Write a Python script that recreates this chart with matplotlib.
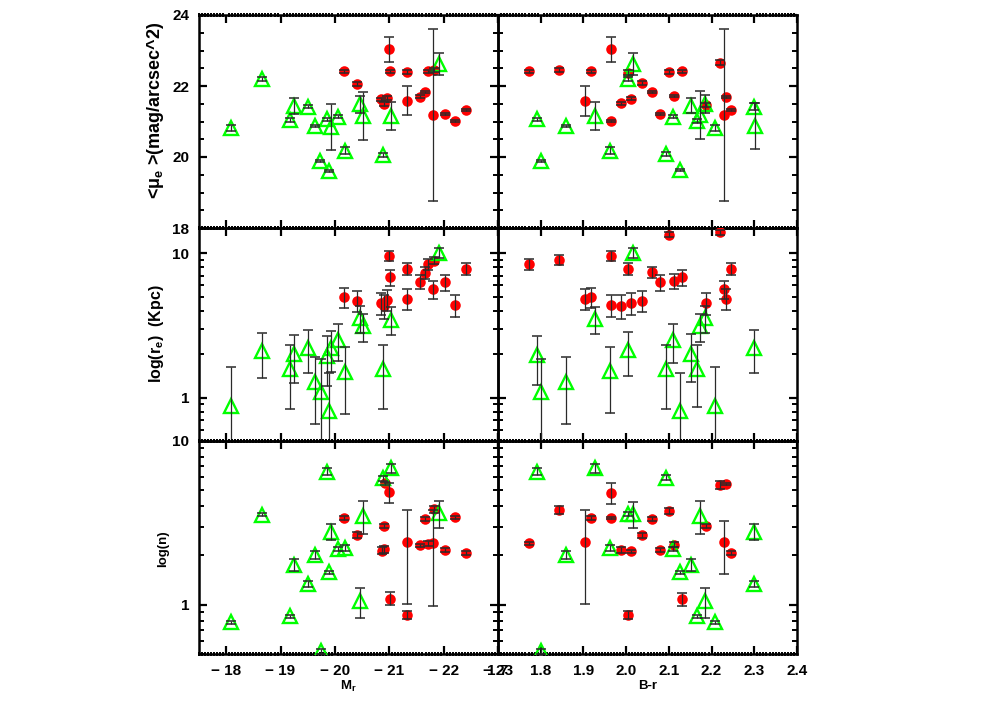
import numpy as np
import matplotlib
matplotlib.use('Agg')
import matplotlib.pyplot as plt
import matplotlib.ticker as ticker

plt.rcParams['font.family'] = ['Liberation Sans', 'DejaVu Sans']
plt.rcParams['font.weight'] = 'bold'
plt.rcParams['mathtext.fontset'] = 'custom'
plt.rcParams['mathtext.rm'] = 'Liberation Sans:bold'
plt.rcParams['mathtext.it'] = 'Liberation Sans:bold'
plt.rcParams['mathtext.bf'] = 'Liberation Sans:bold'

# Data: (x, y, error) per panel. Red = filled circles, green = open triangles.
# Top row: <mu_e> (mag/arcsec^2)
mu_mr_red = [(-20.16, 22.42, 0.04), (-20.40, 22.06, 0.06), (-20.85, 21.62, 0.05),
             (-20.90, 21.50, 0.06), (-20.95, 21.66, 0.05), (-21.00, 23.03, 0.35),
             (-21.02, 22.42, 0.04), (-21.33, 22.40, 0.05), (-21.33, 21.59, 0.42),
             (-21.56, 21.70, 0.04), (-21.65, 21.83, 0.04), (-21.71, 22.42, 0.04),
             (-21.82, 22.45, 0.05), (-21.81, 21.18, 2.42), (-22.02, 21.21, 0.03),
             (-22.20, 21.02, 0.03), (-22.41, 21.32, 0.03)]
mu_mr_green = [(-18.09, 20.81, 0.08), (-18.66, 22.20, 0.05), (-19.17, 21.04, 0.05),
               (-19.25, 21.44, 0.22), (-19.50, 21.42, 0.05), (-19.64, 20.87, 0.03),
               (-19.73, 19.89, 0.03), (-19.85, 21.06, 0.05), (-19.90, 19.61, 0.03),
               (-19.92, 20.85, 0.65), (-20.05, 21.14, 0.05), (-20.18, 20.18, 0.10),
               (-20.47, 21.48, 0.25), (-20.52, 21.16, 0.67), (-20.89, 20.06, 0.05),
               (-21.03, 21.16, 0.40), (-21.91, 22.61, 0.31)]
mu_br_red = [(1.773, 22.42, 0.04), (1.842, 22.45, 0.05), (1.917, 22.42, 0.04),
             (1.903, 21.58, 0.42), (1.964, 23.03, 0.35), (1.965, 21.02, 0.03),
             (1.987, 21.51, 0.04), (2.004, 22.38, 0.06), (2.011, 21.64, 0.04),
             (2.036, 22.08, 0.05), (2.061, 21.82, 0.03), (2.079, 21.21, 0.03),
             (2.101, 22.40, 0.06), (2.111, 21.72, 0.03), (2.130, 22.41, 0.03),
             (2.187, 21.47, 0.05), (2.220, 22.66, 0.06), (2.228, 21.18, 2.42),
             (2.234, 21.70, 0.03), (2.246, 21.32, 0.03)]
mu_br_green = [(1.791, 21.06, 0.05), (1.800, 19.89, 0.03), (1.859, 20.88, 0.03),
               (1.926, 21.16, 0.40), (1.962, 20.18, 0.10), (2.004, 22.19, 0.05),
               (2.017, 22.61, 0.31), (2.093, 20.08, 0.05), (2.110, 21.14, 0.05),
               (2.126, 19.63, 0.03), (2.151, 21.45, 0.22), (2.167, 21.02, 0.05),
               (2.173, 21.18, 0.67), (2.185, 21.49, 0.25), (2.208, 20.81, 0.08),
               (2.300, 21.42, 0.10), (2.302, 20.87, 0.65)]

# Middle row: r_e (Kpc)
re_mr_red = [(-20.16, 4.98, 0.80), (-20.40, 4.69, 0.77), (-20.85, 4.52, 0.80),
             (-20.90, 4.33, 0.80), (-20.95, 4.77, 0.80), (-21.00, 9.58, 0.75),
             (-21.02, 6.82, 0.86), (-21.33, 7.83, 0.77), (-21.33, 4.84, 0.80),
             (-21.56, 6.37, 0.70), (-21.65, 7.35, 0.70), (-21.71, 8.40, 0.70),
             (-21.82, 8.89, 0.50), (-21.81, 5.65, 0.80), (-22.02, 6.31, 0.80),
             (-22.20, 4.38, 0.78), (-22.41, 7.83, 0.80)]
re_mr_green = [(-18.09, 0.875, 0.75), (-18.66, 2.09, 0.72), (-19.17, 1.57, 0.73),
               (-19.25, 1.99, 0.73), (-19.50, 2.21, 0.72), (-19.63, 1.28, 0.62),
               (-19.75, 1.09, 0.75), (-19.85, 1.94, 0.73), (-19.90, 0.81, 0.68),
               (-19.93, 2.21, 0.70), (-20.05, 2.52, 0.74), (-20.18, 1.51, 0.74),
               (-20.47, 3.57, 0.76), (-20.52, 3.12, 0.70), (-20.89, 1.57, 0.73),
               (-21.03, 3.47, 0.75), (-21.91, 10.1, 0.75)]
re_br_red = [(1.773, 8.40, 0.70), (1.842, 9.00, 0.70), (1.903, 4.84, 0.80),
             (1.917, 4.98, 0.80), (1.964, 9.58, 0.75), (1.965, 4.40, 0.78),
             (1.987, 4.33, 0.80), (2.004, 7.83, 0.77), (2.011, 4.52, 0.80),
             (2.036, 4.71, 0.77), (2.061, 7.40, 0.70), (2.079, 6.31, 0.80),
             (2.101, 13.5, 0.60), (2.111, 6.44, 0.80), (2.130, 6.82, 0.86),
             (2.187, 4.52, 0.80), (2.220, 13.96, 0.60), (2.228, 5.65, 0.80),
             (2.234, 4.82, 0.80), (2.246, 7.83, 0.80)]
re_br_green = [(1.791, 1.96, 0.73), (1.800, 1.09, 0.75), (1.859, 1.28, 0.62),
               (1.926, 3.51, 0.76), (1.962, 1.52, 0.74), (2.004, 2.13, 0.72),
               (2.017, 10.1, 0.75), (2.093, 1.57, 0.73), (2.110, 2.49, 0.74),
               (2.126, 0.81, 0.68), (2.151, 2.02, 0.73), (2.167, 1.59, 0.73),
               (2.173, 3.12, 0.70), (2.185, 3.57, 0.76), (2.208, 0.875, 0.75),
               (2.300, 2.21, 0.72)]

# Bottom row: Sersic n
n_mr_red = [(-20.16, 3.38, 0.10), (-20.40, 2.67, 0.10), (-20.86, 2.14, 0.10),
            (-20.90, 2.18, 0.10), (-20.91, 3.03, 0.08), (-20.92, 5.52, 0.10),
            (-21.00, 4.87, 0.70), (-21.01, 1.09, 0.10), (-21.33, 0.869, 0.05),
            (-21.33, 2.41, 1.40), (-21.56, 2.30, 0.05), (-21.65, 3.33, 0.10),
            (-21.71, 2.36, 0.08), (-21.82, 3.83, 0.20), (-21.81, 2.38, 1.40),
            (-22.02, 2.16, 0.05), (-22.20, 3.41, 0.05), (-22.41, 2.07, 0.05)]
n_mr_green = [(-18.09, 0.78, 0.02), (-18.66, 3.54, 0.08), (-19.17, 0.85, 0.02),
              (-19.25, 1.75, 0.15), (-19.50, 1.34, 0.06), (-19.64, 2.02, 0.12),
              (-19.75, 0.52, 0.02), (-19.85, 6.50, 0.30), (-19.90, 1.58, 0.03),
              (-19.92, 2.80, 0.30), (-20.05, 2.19, 0.05), (-20.18, 2.22, 0.10),
              (-20.47, 1.05, 0.22), (-20.52, 3.49, 0.80), (-20.89, 5.92, 0.20),
              (-21.03, 6.81, 0.40), (-21.91, 3.62, 0.67)]
n_br_red = [(1.773, 2.38, 0.05), (1.842, 3.80, 0.20), (1.903, 2.41, 1.40),
            (1.917, 3.38, 0.10), (1.964, 4.84, 0.70), (1.965, 3.39, 0.05),
            (1.987, 2.16, 0.10), (2.005, 0.869, 0.05), (2.011, 2.12, 0.05),
            (2.036, 2.66, 0.10), (2.061, 3.33, 0.10), (2.079, 2.16, 0.05),
            (2.101, 3.74, 0.15), (2.111, 2.32, 0.08), (2.130, 1.08, 0.10),
            (2.187, 3.03, 0.08), (2.220, 5.39, 0.30), (2.234, 5.47, 0.05),
            (2.228, 2.40, 0.86), (2.246, 2.07, 0.05)]
n_br_green = [(1.791, 6.50, 0.30), (1.800, 0.52, 0.02), (1.859, 2.02, 0.12),
              (1.926, 6.81, 0.40), (1.962, 2.22, 0.10), (2.004, 3.57, 0.10),
              (2.017, 3.59, 0.65), (2.093, 5.97, 0.20), (2.110, 2.19, 0.05),
              (2.126, 1.58, 0.03), (2.151, 1.75, 0.15), (2.167, 0.85, 0.02),
              (2.173, 3.49, 0.80), (2.185, 1.05, 0.22), (2.208, 0.78, 0.02),
              (2.300, 2.80, 0.30), (2.300, 1.34, 0.06)]

panels = [[(mu_mr_red, mu_mr_green), (mu_br_red, mu_br_green)],
          [(re_mr_red, re_mr_green), (re_br_red, re_br_green)],
          [(n_mr_red, n_mr_green), (n_br_red, n_br_green)]]

fig = plt.figure(figsize=(9.97, 7.12), dpi=100)

W = 299 / 997.
H = 213 / 712.
lefts = [199 / 997., 498 / 997.]
bottoms = [1 - 228 / 712., 1 - 441 / 712., 1 - 654 / 712.]


def draw(ax, pts, logy, style):
    x, y, e = np.array(pts).T
    lo = np.minimum(e, y * 0.99) if logy else e
    ax.plot(x, y, linestyle='none', **style)
    ax.errorbar(x, y, yerr=[lo, e], fmt='none', ecolor='#2a2a2a',
                elinewidth=0.9, capsize=3.5, capthick=1.1, zorder=5)


red_style = dict(marker='o', ms=7.6, mfc='#ff0000', mec='#ff0000', mew=0, zorder=3)
green_style = dict(marker='^', ms=9.5, mfc='none', mec='#00ff00', mew=1.7, zorder=4)

minus_int = ticker.FuncFormatter(lambda v, p: ('%d' % v).replace('-', '\u2212 '))

for row in range(3):
    for col in range(2):
        ax = fig.add_axes([lefts[col], bottoms[row], W, H])
        red, green = panels[row][col]
        logy = row > 0
        if logy:
            ax.set_yscale('log')

        draw(ax, red, logy, red_style)
        draw(ax, green, logy, green_style)

        # x axis
        if col == 0:
            ax.set_xlim(-17.5, -23)
            ax.xaxis.set_major_locator(ticker.MultipleLocator(1))
            ax.xaxis.set_minor_locator(ticker.MultipleLocator(1 / 18.))
            ax.xaxis.set_major_formatter(minus_int)
        else:
            ax.set_xlim(1.7, 2.4)
            ax.xaxis.set_major_locator(ticker.MultipleLocator(0.1))
            ax.xaxis.set_minor_locator(ticker.MultipleLocator(0.1 / 14))
            ax.xaxis.set_major_formatter(ticker.FormatStrFormatter('%.1f'))

        # y axis
        if row == 0:
            ax.set_ylim(18, 24)
            ax.yaxis.set_major_locator(ticker.MultipleLocator(2))
            ax.yaxis.set_minor_locator(ticker.MultipleLocator(0.5))
            ax.yaxis.set_major_formatter(ticker.FormatStrFormatter('%d'))
        else:
            ax.set_ylim(0.5, 15 if row == 1 else 10)
            ax.yaxis.set_major_locator(ticker.LogLocator(base=10))
            ax.yaxis.set_minor_locator(ticker.LogLocator(base=10, subs=np.arange(2, 10)))
            ax.yaxis.set_major_formatter(ticker.FormatStrFormatter('%g'))
            ax.yaxis.set_minor_formatter(ticker.NullFormatter())

        ax.tick_params(which='both', direction='in', top=True, right=True,
                       labelsize=11, colors='black')
        ax.tick_params(which='major', length=6, width=1.6, pad=7)
        ax.tick_params(axis='x', which='minor', length=2.2, width=1.4, direction='inout')
        ax.tick_params(axis='y', which='minor', length=3.5, width=1.4)

        if row < 2:
            ax.tick_params(axis='x', labelbottom=False)
        if col == 1:
            ax.tick_params(axis='y', labelleft=False)

        for s in ax.spines.values():
            s.set_linewidth(1.8)
        ax.patch.set_alpha(0)

# Axis titles
fig.text(155 / 997., 1 - 110 / 712., r'<$\mu_e$ >(mag/arcsec^2)', rotation=90,
         ha='center', va='center', fontsize=13, fontweight='bold')
fig.text(157 / 997., 1 - 334 / 712., r'log(r$_e$)  (Kpc)', rotation=90,
         ha='center', va='center', fontsize=11.5, fontweight='bold')
fig.text(163 / 997., 1 - 549 / 712., 'log(n)', rotation=90,
         ha='center', va='center', fontsize=9.5, fontweight='bold')
fig.text(348 / 997., 1 - 686 / 712., r'M$_r$', ha='center', va='center',
         fontsize=9.5, fontweight='bold')
fig.text(648 / 997., 1 - 686 / 712., 'B-r', ha='center', va='center',
         fontsize=9.5, fontweight='bold')

plt.savefig('out.png', dpi=100)
plt.close()
